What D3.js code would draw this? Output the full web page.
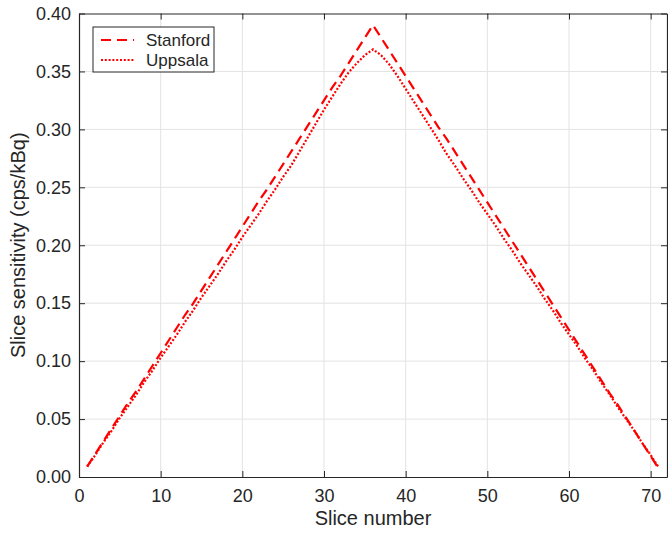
<!DOCTYPE html>
<html>
<head>
<meta charset="utf-8">
<script src="https://cdn.jsdelivr.net/npm/d3@7"></script>
<style>
  body { margin: 0; background: #fff; }
  text { font-family: "Liberation Sans", Arial, Helvetica, sans-serif; fill: #262626; }
</style>
</head>
<body>
<div id="chart"></div>
<script>
// slice numbers 1..71
var slices = d3.range(1, 72);

// Stanford sensitivity per slice (cps/kBq)
var stanford = [
  0.009, 0.020, 0.031, 0.042, 0.053, 0.064, 0.074, 0.085, 0.096, 0.107,
  0.118, 0.129, 0.140, 0.150, 0.161, 0.172, 0.183, 0.194, 0.205, 0.216,
  0.227, 0.238, 0.248, 0.259, 0.270, 0.281, 0.292, 0.303, 0.314, 0.325,
  0.336, 0.346, 0.357, 0.368, 0.379, 0.390,
  0.379, 0.368, 0.357, 0.346, 0.335, 0.324, 0.313, 0.302, 0.292, 0.281,
  0.270, 0.259, 0.248, 0.237, 0.226, 0.215, 0.204, 0.193, 0.182, 0.171,
  0.160, 0.149, 0.138, 0.127, 0.116, 0.105, 0.094, 0.083, 0.072, 0.062,
  0.051, 0.040, 0.029, 0.018, 0.007
];

// Uppsala sensitivity per slice (cps/kBq)
var uppsala = [
  0.009, 0.019, 0.030, 0.040, 0.051, 0.061, 0.071, 0.082, 0.092, 0.103,
  0.113, 0.123, 0.134, 0.144, 0.155, 0.165, 0.175, 0.186, 0.196, 0.207,
  0.217, 0.227, 0.238, 0.248, 0.259, 0.269, 0.281, 0.293, 0.305, 0.317,
  0.328, 0.339, 0.349, 0.357, 0.364, 0.369,
  0.364, 0.356, 0.346, 0.335, 0.324, 0.313, 0.302, 0.291, 0.279, 0.269,
  0.258, 0.248, 0.237, 0.227, 0.217, 0.206, 0.196, 0.185, 0.175, 0.165,
  0.154, 0.144, 0.133, 0.123, 0.113, 0.102, 0.092, 0.081, 0.071, 0.060,
  0.050, 0.040, 0.029, 0.019, 0.008
];

var xTicks = [0, 10, 20, 30, 40, 50, 60, 70];
var yTicks = [0, 0.05, 0.10, 0.15, 0.20, 0.25, 0.30, 0.35, 0.40];

var width = 668, height = 536;
var margin = { left: 79, right: 1, top: 13.5, bottom: 59 };
var plotW = width - margin.left - margin.right;
var plotH = height - margin.top - margin.bottom;

var svg = d3.select("#chart").append("svg")
  .attr("width", width)
  .attr("height", height);

var g = svg.append("g")
  .attr("transform", "translate(" + margin.left + "," + margin.top + ")");

var x = d3.scaleLinear().domain([0, 72]).range([0, plotW]);
var y = d3.scaleLinear().domain([0, 0.40]).range([plotH, 0]);

// grid
g.selectAll("line.gx")
  .data(xTicks.filter(function(d) { return d > 0; }))
  .enter().append("line")
  .attr("class", "gx")
  .attr("x1", function(d) { return x(d); })
  .attr("x2", function(d) { return x(d); })
  .attr("y1", 0).attr("y2", plotH)
  .attr("stroke", "#e3e3e3").attr("stroke-width", 1);

g.selectAll("line.gy")
  .data(yTicks.filter(function(d) { return d > 0 && d < 0.40; }))
  .enter().append("line")
  .attr("class", "gy")
  .attr("y1", function(d) { return y(d); })
  .attr("y2", function(d) { return y(d); })
  .attr("x1", 0).attr("x2", plotW)
  .attr("stroke", "#e3e3e3").attr("stroke-width", 1);

// axes (ticks inward, box on)
var fmtY = d3.format(".2f");
var xAxis = g.append("g")
  .attr("transform", "translate(0," + plotH + ")")
  .call(d3.axisBottom(x).tickValues(xTicks).tickSizeInner(-6).tickSizeOuter(0).tickPadding(12));
var xTop = g.append("g")
  .call(d3.axisTop(x).tickValues(xTicks).tickSizeInner(-6).tickSizeOuter(0).tickFormat(""));
var yAxis = g.append("g")
  .call(d3.axisLeft(y).tickValues(yTicks).tickSizeInner(-6).tickSizeOuter(0).tickPadding(8).tickFormat(fmtY));
var yRight = g.append("g")
  .attr("transform", "translate(" + plotW + ",0)")
  .call(d3.axisRight(y).tickValues(yTicks).tickSizeInner(-6).tickSizeOuter(0).tickFormat(""));

[xAxis, xTop, yAxis, yRight].forEach(function(a) {
  a.select(".domain").attr("stroke", "#262626").attr("stroke-width", 1.2);
  a.selectAll(".tick line").attr("stroke", "#262626").attr("stroke-width", 1);
  a.selectAll(".tick text").attr("font-size", 18).attr("fill", "#262626")
    .style("font-family", "'Liberation Sans', Arial, sans-serif");
});

// lines
var line = function(vals) {
  return d3.line()
    .x(function(d, i) { return x(slices[i]); })
    .y(function(d) { return y(d); })(vals);
};

g.append("path")
  .attr("d", line(stanford))
  .attr("fill", "none")
  .attr("stroke", "#ff0000")
  .attr("stroke-width", 2.2)
  .attr("stroke-dasharray", "10,6");

g.append("path")
  .attr("d", line(uppsala))
  .attr("fill", "none")
  .attr("stroke", "#ff0000")
  .attr("stroke-width", 2.2)
  .attr("stroke-dasharray", "2,1.8");

// legend
var leg = svg.append("g").attr("transform", "translate(93,27)");
leg.append("rect")
  .attr("width", 121).attr("height", 45)
  .attr("fill", "#fff").attr("stroke", "#262626").attr("stroke-width", 1);

var legItems = [
  { name: "Stanford", dash: "10,6" },
  { name: "Uppsala", dash: "2,1.8" }
];
legItems.forEach(function(d, i) {
  var ly = 13 + i * 20;
  leg.append("line")
    .attr("x1", 8).attr("x2", 41)
    .attr("y1", ly).attr("y2", ly)
    .attr("stroke", "#ff0000").attr("stroke-width", 2.2)
    .attr("stroke-dasharray", d.dash);
  leg.append("text")
    .attr("x", 53).attr("y", ly + 6)
    .attr("font-size", 17)
    .attr("fill", "#000")
    .text(d.name);
});

// axis labels
svg.append("text")
  .attr("x", margin.left + x(36))
  .attr("y", 525)
  .attr("text-anchor", "middle")
  .attr("font-size", 20)
  .text("Slice number");

svg.append("text")
  .attr("transform", "translate(25," + (margin.top + plotH / 2) + ") rotate(-90)")
  .attr("text-anchor", "middle")
  .attr("font-size", 20)
  .text("Slice sensitivity (cps/kBq)");
</script>
</body>
</html>
